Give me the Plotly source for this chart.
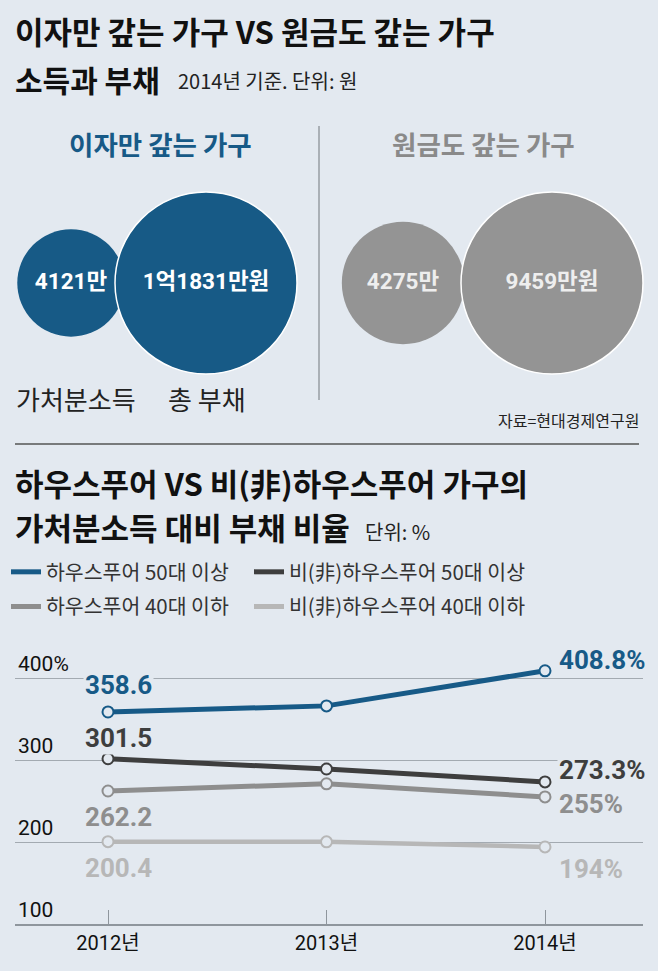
import plotly.graph_objects as go

W, H = 658, 971
BG = "#e3e9f0"
KR = "Noto Sans CJK KR"
NUM = "Roboto, Noto Sans CJK KR"

# ---------- data ----------
circle_groups = ["이자만 갚는 가구", "원금도 갚는 가구"]
circle_labels = ["가처분소득", "총 부채"]
income_values = [4121, 4275]       # 만원
debt_values = [11831, 9459]        # 만원
income_text = ["4121만", "4275만"]
debt_text = ["1억1831만원", "9459만원"]

years = ["2012년", "2013년", "2014년"]
series_names = ["하우스푸어 50대 이상", "비(非)하우스푸어 50대 이상",
                "하우스푸어 40대 이하", "비(非)하우스푸어 40대 이하"]
hp50 = [358.6, 366, 408.8]
nhp50 = [301.5, 289, 273.3]
hp40 = [262.2, 271, 255.0]
nhp40 = [200.4, 200.2, 194.0]
series_values = [hp50, nhp50, hp40, nhp40]
first_labels = ["358.6", "301.5", "262.2", "200.4"]
last_labels = ["408.8%", "273.3%", "255%", "194%"]
y_tickvals = [100, 200, 300, 400]
y_ticktext = ["100", "200", "300", "400%"]

# ---------- styles ----------
colors = ["#175a87", "#3e3e3e", "#8e8e8e", "#b7b7b7"]
widths = [5, 5, 5, 4.5]
legend_ids = ["legend", "legend2", "legend", "legend2"]
circle_colors = ["#175a86", "#949494"]
circle_text_colors = ["#ffffff", "#eeeeee"]
group_title_colors = ["#175a87", "#8a8a8a"]
first_shift = [27, 21, -26, -26]
last_shift = [11, 12, -7, -22]

def py(p):
    return 1 - p / H

fig = go.Figure()

# ---------- circles (pixel-space axes) ----------
BIG_D = 182
centers_small = [71, 403]
centers_big = [206, 552]
CY = 283
for i in range(2):
    vmax = max(income_values[i], debt_values[i])
    ds = BIG_D * (income_values[i] / vmax) ** 0.5
    db = BIG_D * (debt_values[i] / vmax) ** 0.5
    fig.add_trace(go.Scatter(
        x=[centers_small[i], centers_big[i]], y=[CY, CY],
        mode="markers+text",
        text=[income_text[i], debt_text[i]],
        textposition="middle center",
        textfont=dict(family=NUM, size=22.5, color=circle_text_colors[i], weight=700),
        marker=dict(size=[ds, db], sizemode="diameter", color=circle_colors[i],
                    line=dict(color=["rgba(0,0,0,0)", "#ffffff"], width=[0, 1.5]),
                    opacity=1),
        xaxis="x2", yaxis="y2", showlegend=False, hoverinfo="skip", cliponaxis=False,
    ))

# ---------- line chart ----------
xidx = [0, 1, 2]
for k in range(4):
    fig.add_trace(go.Scatter(
        x=xidx, y=series_values[k], mode="lines+markers",
        line=dict(color=colors[k], width=widths[k]),
        marker=dict(symbol="circle", size=11, color=BG,
                    line=dict(color=colors[k], width=2)),
        showlegend=False, hoverinfo="skip", cliponaxis=False,
    ))
# legend entries (two columns = two legends)
for k in range(4):
    fig.add_trace(go.Scatter(
        x=[None], y=[None], mode="lines", name=series_names[k],
        line=dict(color=colors[k], width=5), showlegend=True,
        legend=legend_ids[k], legendgroup=f"g{k}",
    ))

ann = []
for k in range(4):
    ann.append(dict(x=0, y=series_values[k][0], xref="x", yref="y",
                    text=first_labels[k], showarrow=False, xshift=10,
                    yshift=first_shift[k], xanchor="center", yanchor="middle",
                    font=dict(family=NUM, size=26, color=colors[k], weight=700),
                    bgcolor=BG, borderpad=1))
    ann.append(dict(x=2, y=series_values[k][2], xref="x", yref="y",
                    text=last_labels[k], showarrow=False, xshift=12,
                    yshift=last_shift[k], xanchor="left", yanchor="middle",
                    font=dict(family=NUM, size=26, color=colors[k], weight=700),
                    bgcolor=BG, borderpad=1))

# ---------- texts ----------
def txt(x, y, s, size, color="#111", bold=False, anchor="left", family=KR):
    ann.append(dict(x=x / W, y=py(y), xref="paper", yref="paper", text=s,
                    showarrow=False, xanchor=anchor, yanchor="middle",
                    font=dict(family=family, size=size, color=color,
                              weight=700 if bold else 400)))

txt(13, 31, "이자만 갚는 가구 VS 원금도 갚는 가구", 31, bold=True)
txt(13, 79, "소득과 부채", 30, bold=True)
txt(176, 80, "2014년 기준. 단위: 원", 20, color="#222")
txt(160, 143, circle_groups[0], 26.5, color=group_title_colors[0], bold=True, anchor="center")
txt(483, 143, circle_groups[1], 26.5, color=group_title_colors[1], bold=True, anchor="center")
txt(76, 398, circle_labels[0], 26, color="#222", anchor="center")
txt(207, 398, circle_labels[1], 26, color="#222", anchor="center")
txt(641, 420, "자료=현대경제연구원", 16, color="#222", anchor="right")
txt(13, 483, "하우스푸어 VS 비(非)하우스푸어 가구의", 31, bold=True)
txt(13, 526, "가처분소득 대비 부채 비율", 31, bold=True)
txt(363, 531, "단위: %", 20, color="#222")

shapes = [
    dict(type="line", xref="paper", yref="paper", x0=319 / W, x1=319 / W,
         y0=py(126), y1=py(400), line=dict(color="#aab0b6", width=2)),
    dict(type="line", xref="paper", yref="paper", x0=15 / W, x1=639 / W,
         y0=py(444), y1=py(444), line=dict(color="#555", width=1.5)),
]

x0px, x1px = 15, 643
cat0, step = 108, 218.5
xr = [(x0px - cat0) / step, (x1px - cat0) / step]
ybot, ytop = 924, 640
yr = [100, 100 + (ybot - ytop) / 0.82]

legend_common = dict(orientation="v", yanchor="top", xanchor="left", itemwidth=30,
                     font=dict(family=KR, size=20.5, color="#333"),
                     bgcolor="rgba(0,0,0,0)", tracegroupgap=5)

fig.update_layout(
    width=W, height=H, margin=dict(l=0, r=0, t=0, b=0),
    paper_bgcolor=BG, plot_bgcolor="rgba(0,0,0,0)",
    annotations=ann, shapes=shapes,
    xaxis=dict(domain=[x0px / W, x1px / W], range=xr, tickvals=xidx, ticktext=years,
               showgrid=False, zeroline=False, showline=True, linecolor="#8f969d",
               linewidth=1.5, ticks="inside", ticklen=14, tickcolor="#8f969d",
               tickwidth=1, tickfont=dict(family=NUM, size=20, color="#111"),
               fixedrange=True),
    yaxis=dict(domain=[py(ybot), py(ytop)], range=yr, tickvals=y_tickvals,
               ticktext=y_ticktext, ticklabelposition="inside top",
               showgrid=True, gridcolor="#a3aab1", gridwidth=1, zeroline=False,
               showline=False, ticks="", tickfont=dict(family=NUM, size=21, color="#111"),
               fixedrange=True),
    xaxis2=dict(domain=[0, 1], range=[0, W], visible=False, anchor="y2", fixedrange=True),
    yaxis2=dict(domain=[0, 1], range=[H, 0], visible=False, anchor="x2", fixedrange=True),
    legend=dict(x=6 / W, y=py(552), **legend_common),
    legend2=dict(x=249 / W, y=py(552), **legend_common),
    showlegend=True,
)

fig.write_html("out.html", post_script="document.body.style.margin='0px';",
               config={"displayModeBar": False})
